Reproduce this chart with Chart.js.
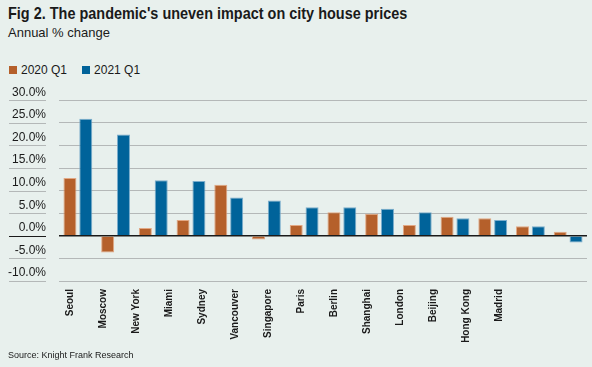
<!DOCTYPE html>
<html>
<head>
<meta charset="utf-8">
<script src="https://cdn.jsdelivr.net/npm/chart.js@4.4.1/dist/chart.umd.min.js"></script>
<style>
    body { margin: 0; background: #e8f0ed; font-family: "Liberation Sans", Arial, sans-serif; color: #1a1a1a; }
    #wrap { position: relative; width: 592px; height: 367px; overflow: hidden; }
    .title { position: absolute; left: 8px; top: 4px; font-size: 17px; font-weight: bold; line-height: 20px; white-space: nowrap;
             transform: scaleX(0.85); transform-origin: 0 0; }
    .subtitle { position: absolute; left: 8px; top: 25px; font-size: 13px; line-height: 16px; }
    .legend { position: absolute; left: 9px; top: 62px; font-size: 12px; line-height: 16px; }
    .legend span.item { display: inline-block; margin-right: 15px; }
    .legend span.box { display: inline-block; width: 8px; height: 8px; margin-right: 4px; vertical-align: 0px; }
    .source { position: absolute; left: 8px; top: 349px; font-size: 9px; line-height: 12px; }
    #chartBox { position: absolute; left: 0; top: 80px; width: 592px; height: 287px; }
</style>
</head>
<body>
<div id="wrap">
    <div class="title">Fig 2. The pandemic's uneven impact on city house prices</div>
    <div class="subtitle">Annual % change</div>
    <div class="legend" id="legend"></div>
    <div id="chartBox"><canvas id="cityChart"></canvas></div>
    <div class="source">Source: Knight Frank Research</div>
</div>
<script>
// data
const cities = ['Seoul', 'Moscow', 'New York', 'Miami', 'Sydney', 'Vancouver', 'Singapore',
    'Paris', 'Berlin', 'Shanghai', 'London', 'Beijing', 'Hong Kong', 'Madrid'];
const q1_2020 = [12.8, -3.7, 1.7, 3.5, 11.3, -0.8, 2.4, 5.2, 4.9, 2.4, 4.2, 3.9, 2.1, 0.9];
const q1_2021 = [25.9, 22.4, 12.3, 12.1, 8.5, 7.8, 6.3, 6.3, 6.0, 5.2, 3.9, 3.5, 2.1, -1.5];
const seriesNames = ['2020 Q1', '2021 Q1'];
const yTicks = [-10, -5, 0, 5, 10, 15, 20, 25, 30];

const orange = '#b5602b';
const blue = '#00639a';

// legend
const legendEl = document.getElementById('legend');
[orange, blue].forEach(function(col, i) {
    legendEl.innerHTML += '<span class="item"><span class="box" style="background:' + col + '"></span>' + seriesNames[i] + '</span>';
});

// short lines under the y tick labels
const tickUnderline = {
    id: 'tickUnderline',
    afterDraw(chart) {
        const ctx = chart.ctx;
        const y = chart.scales.y;
        ctx.save();
        y.ticks.forEach(function(t) {
            const py = Math.round(y.getPixelForValue(t.value)) + 0.5;
            ctx.strokeStyle = t.value === 0 ? '#1a1a1a' : '#b4b8b8';
            ctx.lineWidth = 1;
            ctx.beginPath();
            ctx.moveTo(9, py);
            ctx.lineTo(46, py);
            ctx.stroke();
        });
        ctx.restore();
    }
};

const ctxCity = document.getElementById('cityChart').getContext('2d');
const cityChart = new Chart(ctxCity, {
    type: 'bar',
    data: {
        labels: cities,
        datasets: [{
            label: seriesNames[0],
            data: q1_2020,
            backgroundColor: orange,
            borderColor: 'rgba(225,160,120,0.9)',
            borderWidth: 1,
            barPercentage: 0.82,
            categoryPercentage: 0.84
        }, {
            label: seriesNames[1],
            data: q1_2021,
            backgroundColor: blue,
            borderColor: 'rgba(110,165,200,0.9)',
            borderWidth: 1,
            barPercentage: 0.82,
            categoryPercentage: 0.84
        }]
    },
    options: {
        responsive: true,
        maintainAspectRatio: false,
        animation: false,
        layout: { padding: { top: 18, left: 8, right: 5, bottom: 16 } },
        plugins: {
            legend: { display: false },
            tooltip: { enabled: false }
        },
        scales: {
            x: { display: false },
            xl: {
                type: 'category',
                position: 'bottom',
                labels: cities.concat(['', '']),
                offset: true,
                grid: { display: false, drawTicks: false },
                border: { display: false },
                afterFit: function(scale) { scale.height = 70; scale.paddingLeft = 0; scale.paddingRight = 0; },
                ticks: {
                    autoSkip: false,
                    minRotation: 90,
                    maxRotation: 90,
                    padding: 8,
                    labelOffset: -5,
                    color: '#1a1a1a',
                    font: { family: '"Liberation Sans", Arial, sans-serif', size: 10, weight: 'bold' }
                }
            },
            y: {
                min: -10,
                max: 30,
                afterBuildTicks: function(scale) {
                    scale.ticks = yTicks.map(function(v) { return { value: v }; });
                },
                afterFit: function(scale) { scale.width = 51; },
                grid: {
                    drawTicks: false,
                    color: function(c) { return c.tick && c.tick.value === 0 ? '#1a1a1a' : '#b4b8b8'; },
                    lineWidth: function(c) { return c.tick && c.tick.value === 0 ? 1.5 : 1; }
                },
                border: { display: false },
                ticks: {
                    padding: 13,
                    labelOffset: -8,
                    color: '#1a1a1a',
                    font: { family: '"Liberation Sans", Arial, sans-serif', size: 12 },
                    callback: function(v) { return v.toFixed(1) + '%'; }
                }
            }
        }
    },
    plugins: [tickUnderline]
});
</script>
</body>
</html>
